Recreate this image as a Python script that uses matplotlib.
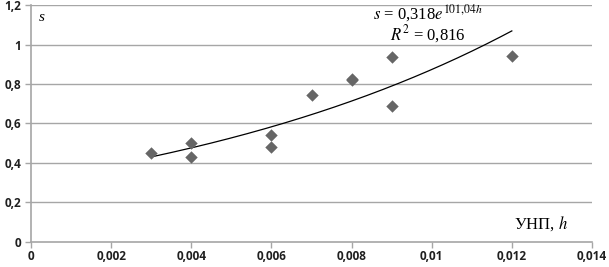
import numpy as np
import matplotlib
matplotlib.use('Agg')
import matplotlib.pyplot as plt

# measured points (h, s)
h_vals = [0.003, 0.004, 0.004, 0.006, 0.006, 0.007, 0.008, 0.008, 0.009, 0.009, 0.012]
s_vals = [0.45, 0.50, 0.43, 0.54, 0.48, 0.745, 0.82, 0.825, 0.935, 0.69, 0.94]

# exponential trend s = a*exp(b*h)
fit_a = 0.318
fit_b = 101.04
fit_range = (0.003, 0.012)

x_ticks = [0, 0.002, 0.004, 0.006, 0.008, 0.01, 0.012, 0.014]
x_labels = ['0', '0,002', '0,004', '0,006', '0,008', '0,01', '0,012', '0,014']
y_ticks = [0, 0.2, 0.4, 0.6, 0.8, 1.0, 1.2]
y_labels = ['0', '0,2', '0,4', '0,6', '0,8', '1', '1,2']

fig = plt.figure(figsize=(6.09, 2.67), dpi=100)
ax = fig.add_axes([0.051, 0.094, 0.921, 0.887])

grid_col = '#a6a6a6'
for y in y_ticks[1:]:
    ax.axhline(y, color=grid_col, lw=1.0, zorder=1)

hh = np.linspace(fit_range[0], fit_range[1], 200)
ax.plot(hh, fit_a * np.exp(fit_b * hh), color='black', lw=0.9, zorder=2)
ax.scatter(h_vals, s_vals, marker='D', s=40, color='#666666', zorder=3, linewidths=0)

ax.set_xlim(0, 0.014)
ax.set_ylim(0, 1.2)
ax.set_xticks(x_ticks)
ax.set_xticklabels(x_labels)
ax.set_yticks(y_ticks)
ax.set_yticklabels(y_labels)
for lab in ax.get_xticklabels() + ax.get_yticklabels():
    lab.set_fontweight('bold')
    lab.set_fontsize(8.5)
    lab.set_family('Open Sans')
    lab.set_color('#202020')

for side in ['top', 'right']:
    ax.spines[side].set_visible(False)
for side in ['left', 'bottom']:
    ax.spines[side].set_color(grid_col)
    ax.spines[side].set_linewidth(1.2)
ax.tick_params(axis='both', colors=grid_col, length=4, width=1, labelcolor='#202020')
ax.tick_params(axis='x', pad=2)
ax.tick_params(axis='y', pad=3)

plt.rcParams['mathtext.fontset'] = 'stix'
serif = 'Liberation Serif'
ax.text(0.0002, 1.135, 's', fontstyle='italic', family=serif, fontsize=11, va='center')
ax.text(0.0099, 1.16, r'$s$ = 0,318$e^{101{,}04h}$', family=serif, fontsize=12,
        ha='center', va='center')
ax.text(0.0099, 1.055, r'$R^2$ = 0,816', family=serif, fontsize=12,
        ha='center', va='center')
ax.text(0.0134, 0.095, r'УНП, $h$', family=serif, fontsize=12,
        ha='right', va='center')

plt.savefig('out.png', dpi=100)
plt.close()
